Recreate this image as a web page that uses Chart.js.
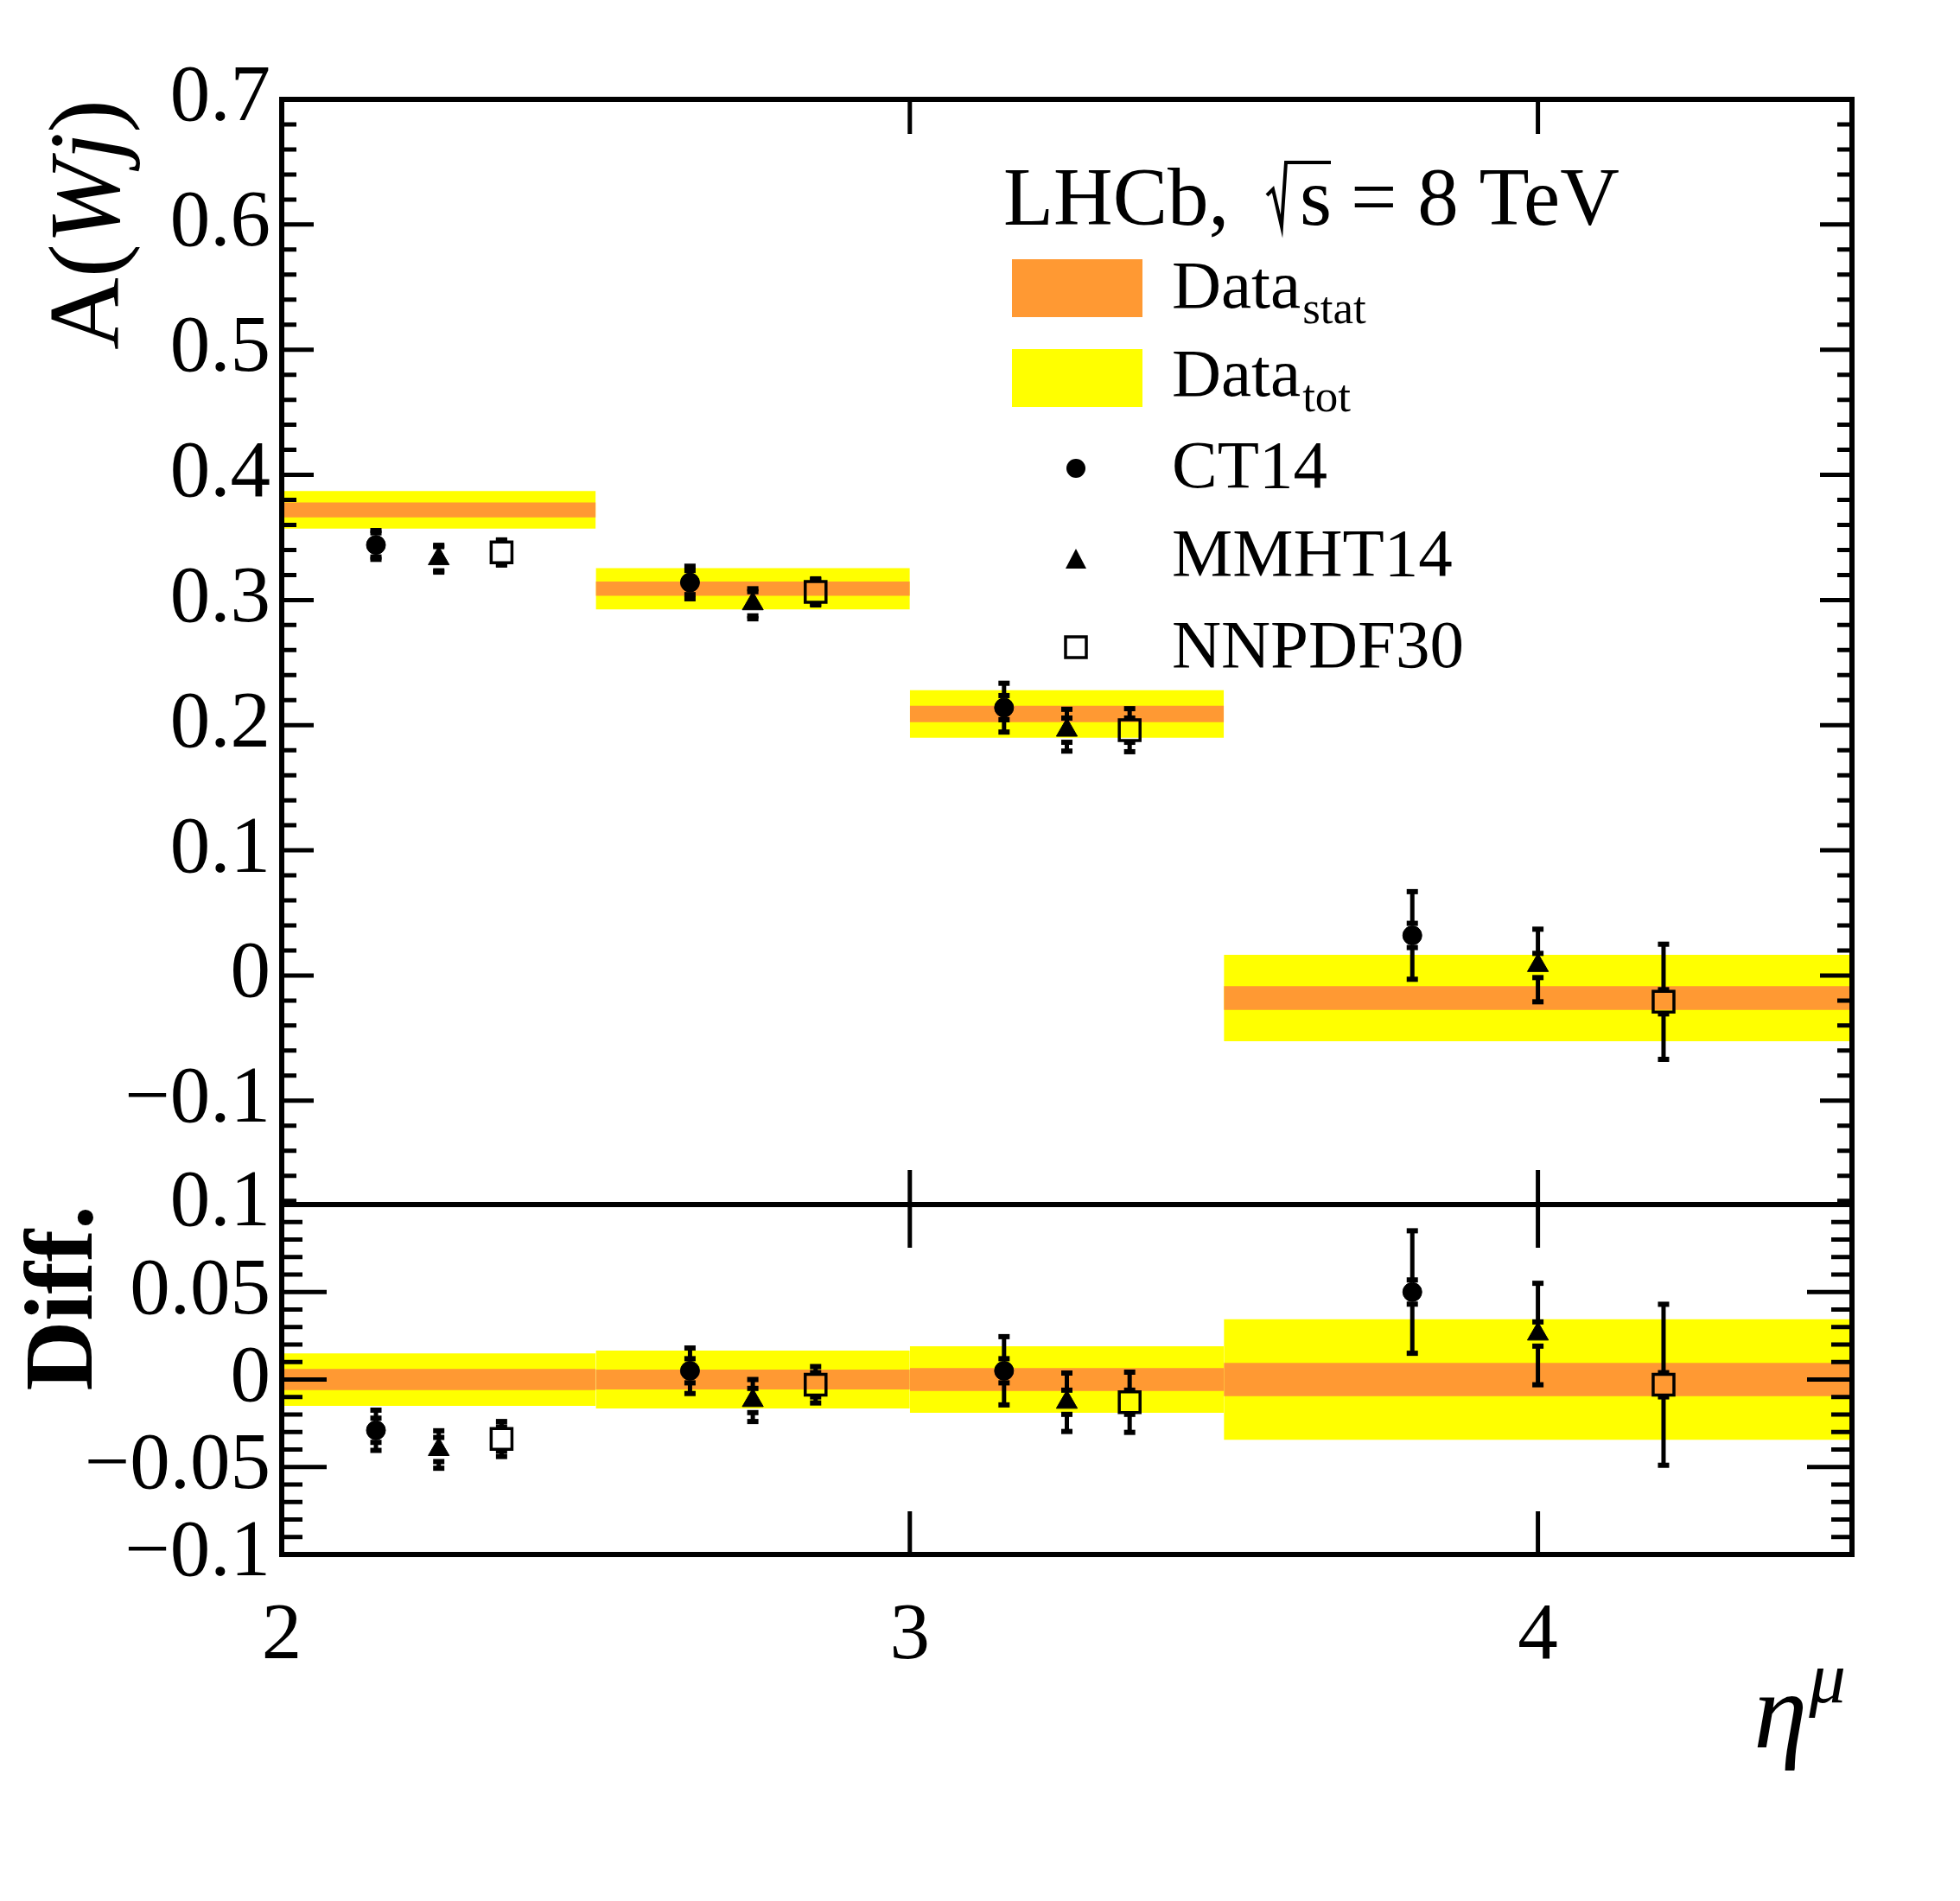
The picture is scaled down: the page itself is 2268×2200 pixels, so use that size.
<!DOCTYPE html>
<html lang="en">
<head>
<meta charset="UTF-8">
<title>A(Wj) versus muon pseudorapidity</title>
<style>
body {margin:0; background:#fff;}
#wrap {position:relative; width:2268px; height:2200px; background:#fff;}
canvas {position:absolute; left:0;}
#topChart {top:0;}
#botChart {top:1300px;}
</style>
</head>
<body>
<div id="wrap">
<canvas id="topChart" width="2268" height="1500"></canvas>
<canvas id="botChart" width="2268" height="900"></canvas>
</div>
<script src="https://cdn.jsdelivr.net/npm/chart.js@4"></script>
<script>
// ---- values ----
const binEdges = [2, 2.5, 3, 3.5, 4.5];
const dataVal  = [0.372, 0.309, 0.209, -0.018];
const dataStat = [0.006, 0.0057, 0.0066, 0.0095];
const dataTot  = [0.015, 0.0165, 0.019, 0.0345];

const ct14X   = [2.15, 2.65, 3.15, 3.8];
const ct14Val = [0.344, 0.314, 0.214, 0.032];
const ct14Err = [0.0115, 0.013, 0.0195, 0.035];
const ct14Diff = [-0.029, 0.005, 0.005, 0.050];

const mmhtX   = [2.25, 2.75, 3.25, 4.0];
const mmhtVal = [0.333, 0.297, 0.196, 0.008];
const mmhtErr = [0.0107, 0.012, 0.0167, 0.029];
const mmhtDiff = [-0.040, -0.012, -0.013, 0.026];

const nnpdfX   = [2.35, 2.85, 3.35, 4.2];
const nnpdfVal = [0.338, 0.3065, 0.196, -0.021];
const nnpdfErr = [0.0100, 0.0104, 0.0172, 0.046];
const nnpdfDiff = [-0.034, -0.003, -0.013, -0.003];

const xTicks = [2, 3, 4];
const upperTicks = [-0.1, 0, 0.1, 0.2, 0.3, 0.4, 0.5, 0.6, 0.7];
const lowerTicks = [-0.1, -0.05, 0, 0.05, 0.1];

const YELLOW = '#ffff00', ORANGE = '#ff9933';
const SERIF = '"Liberation Serif", "Times New Roman", serif';
Chart.defaults.font.family = SERIF;
Chart.defaults.color = '#000';

function fmt(v) {
  if (Math.abs(v) < 1e-9) return '0';
  return (v < 0 ? '\u2212' : '') + String(Math.abs(v));
}

function bands(center, stat, tot) {
  const out = [];
  [[tot, YELLOW, 3], [stat, ORANGE, 2]].forEach(([half, col, ord]) => {
    for (let i = 0; i < center.length; i++) {
      out.push({
        type: 'line',
        data: [{x: binEdges[i], y: center[i] + half[i]}, {x: binEdges[i + 1], y: center[i] + half[i]}],
        fill: {value: center[i] - half[i]},
        backgroundColor: col, borderWidth: 0, pointRadius: 0, pointHoverRadius: 0, order: ord
      });
    }
  });
  return out;
}

function series(xs, vals, errs, style) {
  const base = {
    type: 'scatter',
    data: xs.map((x, i) => ({x: x, y: vals[i]})),
    errors: errs, errGap: 14, order: 0
  };
  if (style === 'circle') Object.assign(base, {pointStyle: 'circle', pointRadius: 11, backgroundColor: '#000', borderColor: '#000', borderWidth: 1});
  if (style === 'triangle') Object.assign(base, {pointStyle: 'triangle', pointRadius: 14, backgroundColor: '#000', borderColor: '#000', borderWidth: 1});
  if (style === 'rect') Object.assign(base, {pointStyle: 'rect', pointRadius: 17, backgroundColor: 'rgba(0,0,0,0)', borderColor: '#000', borderWidth: 3.5});
  base.pointHoverRadius = base.pointRadius;
  return base;
}

// error bars with caps, leaving a gap around the marker
const errorBars = {
  id: 'errorBars',
  afterDatasetsDraw(chart) {
    const ctx = chart.ctx, ys = chart.scales.y;
    ctx.save();
    ctx.fillStyle = '#000';
    const seg = (x, a, b) => {
      if (b - a <= 0) return;
      ctx.fillRect(x - 2.5, a, 5, b - a);
      ctx.fillRect(x - 6.5, a - 3, 13, 6);
      ctx.fillRect(x - 6.5, b - 3, 13, 6);
    };
    chart.data.datasets.forEach((ds, i) => {
      if (!ds.errors) return;
      chart.getDatasetMeta(i).data.forEach((pt, j) => {
        const v = ds.data[j].y, e = ds.errors[j];
        const hi = ys.getPixelForValue(v + e), lo = ys.getPixelForValue(v - e);
        seg(pt.x, hi, pt.y - ds.errGap);
        seg(pt.x, pt.y + ds.errGap, lo);
      });
    });
    ctx.restore();
  }
};

// ROOT style frame with inward ticks on all sides
const rootFrame = {
  id: 'rootFrame',
  afterDatasetsDraw(chart, args, o) {
    const {ctx, chartArea: a} = chart;
    const xs = chart.scales.x, ys = chart.scales.y;
    const major = ys.ticks.map(t => t.value);
    ctx.save();
    ctx.strokeStyle = '#000';
    ctx.lineWidth = 5;
    ctx.beginPath();
    const k0 = Math.ceil(ys.min / o.minorStep - 1e-6), k1 = Math.floor(ys.max / o.minorStep + 1e-6);
    for (let k = k0; k <= k1; k++) {
      const v = k * o.minorStep;
      const len = major.some(m => Math.abs(m - v) < 1e-7) ? o.yMajor : o.yMinor;
      const py = ys.getPixelForValue(v);
      ctx.moveTo(a.left, py); ctx.lineTo(a.left + len, py);
      ctx.moveTo(a.right, py); ctx.lineTo(a.right - len, py);
    }
    xTicks.forEach(v => {
      const px = xs.getPixelForValue(v);
      ctx.moveTo(px, a.top); ctx.lineTo(px, a.top + o.xLen);
      ctx.moveTo(px, a.bottom); ctx.lineTo(px, a.bottom - o.xLen);
    });
    ctx.stroke();
    ctx.lineWidth = 6;
    ctx.strokeRect(a.left, a.top, a.right - a.left, a.bottom - a.top);
    ctx.restore();
  }
};

function drawRotated(ctx, parts, xBase, yTop) {
  let w = 0;
  parts.forEach(p => { ctx.font = p.font; w += ctx.measureText(p.t).width; });
  ctx.save();
  ctx.translate(xBase, yTop + w);
  ctx.rotate(-Math.PI / 2);
  ctx.textBaseline = 'alphabetic';
  ctx.fillStyle = '#000';
  let x = 0;
  parts.forEach(p => { ctx.font = p.font; ctx.fillText(p.t, x, 0); x += ctx.measureText(p.t).width; });
  ctx.restore();
}

const upperText = {
  id: 'upperText',
  afterDraw(chart) {
    const ctx = chart.ctx, a = chart.chartArea;
    const up = '116px ' + SERIF, it = 'italic 116px ' + SERIF;
    drawRotated(ctx, [{t: 'A(', font: up}, {t: 'W', font: it}, {t: 'j', font: it}, {t: ')', font: up}], a.left - 189, a.top);

    ctx.save();
    ctx.fillStyle = '#000';
    ctx.textBaseline = 'alphabetic';
    ctx.font = '95px ' + SERIF;
    ctx.fillText('LHCb,', 1161, 260);
    ctx.lineWidth = 4;
    ctx.lineJoin = 'miter';
    ctx.beginPath();
    ctx.moveTo(1466, 226); ctx.lineTo(1473, 219); ctx.lineTo(1483, 262);
    ctx.lineTo(1488, 188); ctx.lineTo(1540, 188);
    ctx.stroke();
    ctx.fillText('s', 1504, 260);
    ctx.fillText('= 8 TeV', 1563, 260);

    ctx.fillStyle = ORANGE; ctx.fillRect(1171, 300, 151, 67);
    ctx.fillStyle = YELLOW; ctx.fillRect(1171, 404, 151, 67);
    ctx.fillStyle = '#000';
    ctx.font = '79px ' + SERIF;
    const dw = ctx.measureText('Data').width;
    ctx.fillText('Data', 1356, 356);
    ctx.fillText('Data', 1356, 458);
    ctx.fillText('CT14', 1356, 564);
    ctx.fillText('MMHT14', 1356, 666);
    ctx.fillText('NNPDF30', 1356, 772);
    ctx.font = '53px ' + SERIF;
    ctx.fillText('stat', 1358 + dw, 374);
    ctx.fillText('tot', 1358 + dw, 476);

    ctx.beginPath(); ctx.arc(1245, 542, 11, 0, Math.PI * 2); ctx.fill();
    ctx.beginPath(); ctx.moveTo(1245, 635); ctx.lineTo(1257, 658); ctx.lineTo(1233, 658); ctx.closePath(); ctx.fill();
    ctx.lineWidth = 3.5; ctx.strokeRect(1233, 737, 24, 24);
    ctx.restore();
  }
};

const lowerText = {
  id: 'lowerText',
  afterDraw(chart) {
    const ctx = chart.ctx, a = chart.chartArea;
    drawRotated(ctx, [{t: 'Diff.', font: 'bold 112px ' + SERIF}], a.left - 220, a.top + 1);
    ctx.save();
    ctx.fillStyle = '#000';
    ctx.textBaseline = 'alphabetic';
    ctx.font = 'italic 85px ' + SERIF;
    const mw = ctx.measureText('\u03bc').width;
    const mx = a.right - 7 - mw;
    ctx.fillText('\u03bc', mx, a.bottom + 171);
    ctx.font = 'italic 125px ' + SERIF;
    const ew = ctx.measureText('\u03b7').width;
    ctx.fillText('\u03b7', mx - ew - 2, a.bottom + 223);
    ctx.restore();
  }
};

function yScale(min, max, ticks) {
  return {
    min: min, max: max,
    grid: {display: false, drawTicks: false}, border: {display: false},
    afterFit: s => { s.width = 326; },
    afterBuildTicks: s => { s.ticks = ticks.map(v => ({value: v})); },
    ticks: {padding: 13, autoSkip: false, color: '#000', font: {size: 93, family: SERIF}, callback: v => fmt(v)}
  };
}

const common = {
  responsive: false, animation: false, devicePixelRatio: 1, events: [],
};

new Chart(document.getElementById('topChart'), {
  type: 'scatter',
  data: {datasets: [
    series(ct14X, ct14Val, ct14Err, 'circle'),
    series(mmhtX, mmhtVal, mmhtErr, 'triangle'),
    series(nnpdfX, nnpdfVal, nnpdfErr, 'rect'),
    ...bands(dataVal, dataStat, dataTot)
  ]},
  options: Object.assign({}, common, {
    layout: {padding: {left: 0, right: 125, top: 115, bottom: 106}},
    scales: {
      x: {type: 'linear', min: 2, max: 4.5, display: false},
      y: yScale(-0.183, 0.7, upperTicks)
    },
    plugins: {legend: {display: false}, tooltip: {enabled: false},
      rootFrame: {minorStep: 0.02, yMajor: 37, yMinor: 17, xLen: 40}}
  }),
  plugins: [errorBars, rootFrame, upperText]
});

new Chart(document.getElementById('botChart'), {
  type: 'scatter',
  data: {datasets: [
    series(ct14X, ct14Diff, ct14Err, 'circle'),
    series(mmhtX, mmhtDiff, mmhtErr, 'triangle'),
    series(nnpdfX, nnpdfDiff, nnpdfErr, 'rect'),
    ...bands(dataVal.map(() => 0), dataStat, dataTot)
  ]},
  options: Object.assign({}, common, {
    layout: {padding: {left: 0, right: 125, top: 94, bottom: 0}},
    scales: {
      x: {
        type: 'linear', min: 2, max: 4.5,
        grid: {display: false, drawTicks: false}, border: {display: false},
        afterFit: s => { s.height = 401; },
        afterBuildTicks: s => { s.ticks = xTicks.map(v => ({value: v})); },
        ticks: {padding: 40, autoSkip: false, maxRotation: 0, color: '#000', font: {size: 93, family: SERIF}, callback: v => String(v)}
      },
      y: yScale(-0.1, 0.1, lowerTicks)
    },
    plugins: {legend: {display: false}, tooltip: {enabled: false},
      rootFrame: {minorStep: 0.01, yMajor: 52, yMinor: 24, xLen: 50}}
  }),
  plugins: [errorBars, rootFrame, lowerText]
});
</script>
</body>
</html>
